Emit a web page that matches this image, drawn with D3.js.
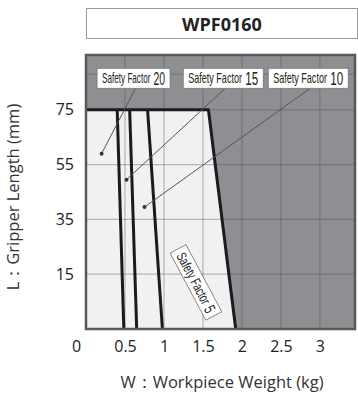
<!DOCTYPE html>
<meta charset="utf-8">
<script src="https://d3js.org/d3.v7.min.js"></script>
<style>
    body { margin: 0; background: #fff; }
    .tick text { font-family: 'Open Sans', sans-serif; font-size: 16px; fill: #222; }
    .axis-label { font-family: 'Open Sans', sans-serif; font-size: 16.5px; fill: #333; }
    .sf-label { font-family: 'Liberation Sans', sans-serif; fill: #222; }
</style>
<div id="chart"></div>
<script>
    // safety factor curves: W at L = 75 (top) and W at the bottom of the chart
    const factors = ["20", "15", "10", "5"];
    const topWeight = [0.40, 0.56, 0.79, 1.57];
    const bottomWeight = [0.485, 0.65, 0.98, 1.92];
    const maxLength = 75;

    // where each leader line points to (W, L)
    const calloutWeight = [0.20, 0.52, 0.75];
    const calloutLength = [59, 49.5, 39.5];
    // where the label boxes sit (W, L)
    const boxWeight = [0.61, 1.76, 2.85];
    const boxLength = 86.5;
    const sf5LabelAt = [1.41, 12];

    const xTicks = [0, 0.5, 1, 1.5, 2, 2.5, 3];
    const yTicks = [15, 35, 55, 75];
    const yGrid = [15, 35, 55, 75, 88];

    const width = 358, height = 398;
    const svg = d3.select("#chart").append("svg")
        .attr("width", width)
        .attr("height", height);

    let x = d3.scaleLinear().domain([0, 3.45]).range([86, 355]);
    let y = d3.scaleLinear().domain([-5, 95]).range([329, 55]);
    const [x0, x1] = x.range();
    const [y0, y1] = y.range();

    // title box
    svg.append("rect")
        .attr("x", 86.5).attr("y", 8.5)
        .attr("width", 271).attr("height", 30)
        .attr("fill", "#fff").attr("stroke", "#999");
    svg.append("text")
        .attr("x", 222).attr("y", 31)
        .attr("text-anchor", "middle")
        .style("font-family", "'Open Sans', sans-serif")
        .style("font-weight", "bold")
        .style("font-size", "18px")
        .attr("fill", "#222")
        .text("WPF0160");

    // dark background
    svg.append("rect")
        .attr("x", x0).attr("y", y1)
        .attr("width", x1 - x0).attr("height", y0 - y1)
        .attr("fill", "#8e8f93");

    // usable (light) area, bounded by safety factor 5
    let last = factors.length - 1;
    let area = [[0, -5], [0, maxLength], [topWeight[last], maxLength], [bottomWeight[last], -5]];
    svg.append("polygon")
        .attr("points", area.map(d => x(d[0]) + "," + y(d[1])).join(" "))
        .attr("fill", "#f1f1f3");

    // grid
    svg.append("g")
        .selectAll("line.v")
        .data(xTicks.slice(1))
        .enter().append("line")
        .attr("x1", d => x(d)).attr("x2", d => x(d))
        .attr("y1", y1).attr("y2", y0)
        .attr("stroke", "rgba(70,70,75,0.35)")
        .attr("stroke-width", 1.2);
    svg.append("g")
        .selectAll("line.h")
        .data(yGrid)
        .enter().append("line")
        .attr("x1", x0).attr("x2", x1)
        .attr("y1", d => y(d)).attr("y2", d => y(d))
        .attr("stroke", "rgba(70,70,75,0.35)")
        .attr("stroke-width", 1.2);

    // safety factor lines
    svg.append("line")
        .attr("x1", x(0)).attr("x2", x(topWeight[last]) + 1)
        .attr("y1", y(maxLength)).attr("y2", y(maxLength))
        .attr("stroke", "#1b1b1b").attr("stroke-width", 3);
    svg.selectAll("line.sf")
        .data(factors)
        .enter().append("line")
        .attr("x1", (d, i) => x(topWeight[i]))
        .attr("x2", (d, i) => x(bottomWeight[i]))
        .attr("y1", y(maxLength))
        .attr("y2", y(-5))
        .attr("stroke", "#1b1b1b").attr("stroke-width", 3);

    // plot border
    svg.append("rect")
        .attr("x", x0).attr("y", y1)
        .attr("width", x1 - x0).attr("height", y0 - y1)
        .attr("fill", "none").attr("stroke", "#58585b").attr("stroke-width", 2.5);

    // axes
    let xAxis = svg.append("g")
        .attr("transform", "translate(0," + y0 + ")")
        .call(d3.axisBottom(x).tickValues(xTicks).tickSize(0).tickPadding(12)
            .tickFormat(d => d3.format("")(d)));
    xAxis.select(".domain").remove();
    xAxis.selectAll(".tick text")
        .attr("dx", d => d === 0 ? -10 : 0);

    let yAxis = svg.append("g")
        .attr("transform", "translate(" + (x0 - 12) + ",0)")
        .call(d3.axisLeft(y).tickValues(yTicks).tickSize(0).tickPadding(0));
    yAxis.select(".domain").remove();

    svg.append("text")
        .attr("class", "axis-label")
        .attr("transform", "translate(19,197) rotate(-90)")
        .attr("text-anchor", "middle")
        .text("L：Gripper Length (mm)");
    svg.append("text")
        .attr("class", "axis-label")
        .attr("x", 222).attr("y", 388)
        .attr("text-anchor", "middle")
        .text("W：Workpiece Weight (kg)");

    // condensed label: natural text, then squeezed horizontally to fit the box
    function sfLabel(g, factor, boxW, boxH, numSize) {
        g.append("rect")
            .attr("x", -boxW / 2).attr("y", -boxH / 2)
            .attr("width", boxW).attr("height", boxH)
            .attr("fill", "#fff").attr("stroke", "#777").attr("stroke-width", 0.8);
        let inner = boxW - 10;
        let squeeze = g.append("g");
        let word = squeeze.append("text").attr("class", "sf-label")
            .attr("y", 5)
            .style("font-size", "14px")
            .text("Safety Factor");
        let ww = word.node().getComputedTextLength();
        let num = squeeze.append("text").attr("class", "sf-label")
            .attr("x", ww + 5).attr("y", numSize * 0.36)
            .style("font-size", numSize + "px")
            .text(factor);
        let total = ww + 5 + num.node().getComputedTextLength();
        let s = inner / total;
        squeeze.attr("transform", "translate(" + (-inner / 2) + ",0) scale(" + s + ",1)");
    }

    // callouts
    const boxWidths = [73, 80, 80];
    let callouts = svg.append("g");
    for (let i = 0; i < calloutWeight.length; i++) {
        let bx = x(boxWeight[i]), by = y(boxLength);
        callouts.append("line")
            .attr("x1", bx + 2).attr("y1", by + 10)
            .attr("x2", x(calloutWeight[i])).attr("y2", y(calloutLength[i]))
            .attr("stroke", "#555").attr("stroke-width", 1);
        callouts.append("circle")
            .attr("cx", x(calloutWeight[i])).attr("cy", y(calloutLength[i]))
            .attr("r", 2).attr("fill", "#333");

        let g = callouts.append("g").attr("transform", "translate(" + bx + "," + by + ")");
        sfLabel(g, factors[i], boxWidths[i], 20, 18);
    }

    // rotated label for safety factor 5
    let g5 = svg.append("g")
        .attr("transform", "translate(" + x(sf5LabelAt[0]) + "," + y(sf5LabelAt[1]) + ") rotate(62)");
    sfLabel(g5, factors[last], 76, 18, 16);
</script>
